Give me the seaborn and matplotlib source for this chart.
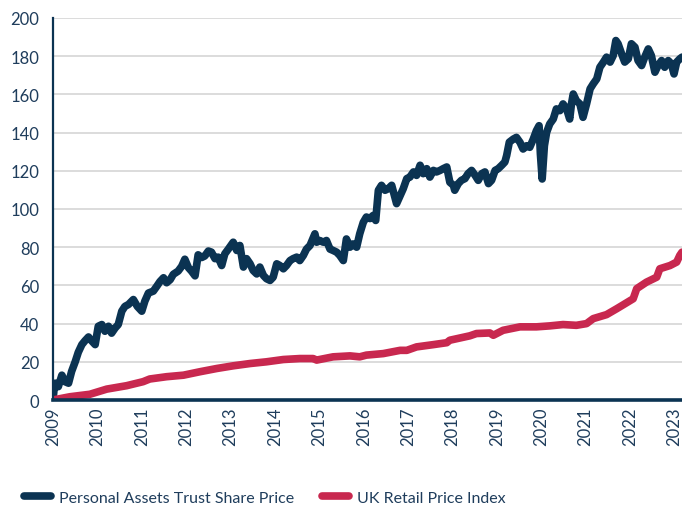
import pandas as pd
import matplotlib
matplotlib.use("Agg")
import matplotlib.pyplot as plt
import seaborn as sns

# Personal Assets Trust share price (% change since 2009)
share_years = [
    2009.00, 2009.03, 2009.05, 2009.12, 2009.20, 2009.27, 2009.35, 2009.42, 2009.50, 2009.57,
    2009.65, 2009.72, 2009.80, 2009.87, 2009.95, 2010.02, 2010.10, 2010.17, 2010.25, 2010.32,
    2010.40, 2010.47, 2010.55, 2010.62, 2010.70, 2010.81, 2010.90, 2011.00, 2011.07, 2011.15,
    2011.26, 2011.34, 2011.41, 2011.49, 2011.56, 2011.64, 2011.71, 2011.82, 2011.90, 2011.97,
    2012.05, 2012.12, 2012.20, 2012.27, 2012.35, 2012.42, 2012.50, 2012.57, 2012.65, 2012.72,
    2012.80, 2012.87, 2012.95, 2013.06, 2013.14, 2013.21, 2013.29, 2013.36, 2013.44, 2013.51,
    2013.59, 2013.66, 2013.74, 2013.81, 2013.89, 2013.96, 2014.04, 2014.11, 2014.19, 2014.26,
    2014.34, 2014.41, 2014.49, 2014.56, 2014.64, 2014.71, 2014.79, 2014.90, 2014.94, 2015.01,
    2015.09, 2015.16, 2015.24, 2015.31, 2015.39, 2015.46, 2015.54, 2015.61, 2015.69, 2015.76,
    2015.84, 2015.91, 2015.99, 2016.06, 2016.14, 2016.21, 2016.27, 2016.33, 2016.40, 2016.48,
    2016.55, 2016.63, 2016.70, 2016.74, 2016.82, 2016.89, 2016.97, 2017.04, 2017.12, 2017.19,
    2017.27, 2017.34, 2017.42, 2017.49, 2017.57, 2017.64, 2017.72, 2017.79, 2017.87, 2017.94,
    2018.02, 2018.05, 2018.13, 2018.20, 2018.28, 2018.35, 2018.43, 2018.51, 2018.58, 2018.66,
    2018.73, 2018.81, 2018.88, 2018.96, 2019.03, 2019.11, 2019.18, 2019.22, 2019.28, 2019.37,
    2019.44, 2019.52, 2019.59, 2019.67, 2019.74, 2019.82, 2019.89, 2019.95, 2019.98, 2020.02,
    2020.07, 2020.12, 2020.19, 2020.27, 2020.34, 2020.42, 2020.49, 2020.57, 2020.64, 2020.68,
    2020.72, 2020.79, 2020.87, 2020.94, 2021.02, 2021.10, 2021.17, 2021.25, 2021.32, 2021.40,
    2021.47, 2021.55, 2021.62, 2021.68, 2021.73, 2021.81, 2021.88, 2021.96, 2022.03, 2022.11,
    2022.18, 2022.26, 2022.33, 2022.41, 2022.48, 2022.56, 2022.63, 2022.71, 2022.78, 2022.86,
    2022.93, 2022.99, 2023.05, 2023.12, 2023.17,
]
share_values = [
    0, 7, 8.8, 7, 13, 9.6, 8.8, 15, 20, 25,
    29, 31, 33, 31, 29, 38.6, 39.5, 36, 38.6, 35,
    37.7, 39.5, 46.5, 49, 50, 52.6, 49, 46.5, 51.8, 56,
    57, 59.6, 62, 64, 61.4, 63, 65.8, 67.5, 70, 73.7,
    69.3, 67.5, 65, 76, 74.6, 75.4, 78, 77.4, 74, 74.8,
    70.4, 76.5, 79, 82.6, 78.3, 80.9, 69.6, 74, 71.3, 67.8,
    66, 69.6, 65.2, 63.5, 62.6, 64.3, 71.3, 70.4, 68.7, 70.4,
    73, 74, 74.8, 73, 75.7, 79, 80.9, 87, 82.6, 83.5,
    82.6, 83.5, 79, 78.3, 77.4, 75.7, 73, 84.3, 80, 81.7,
    80, 87, 93, 95.8, 95, 96.6, 94, 109.8, 112.4, 109.8,
    110.6, 112.4, 106.3, 102.8, 107, 110.6, 115.9, 116.7, 119.4, 117.6,
    122.9, 118.5, 121.1, 116.7, 120.2, 119.4, 120.2, 121.1, 122, 114,
    112.4, 109.8, 113.3, 115, 115.9, 118.5, 120.2, 117.6, 115, 118.5,
    119.4, 113.3, 115, 120.2, 121.1, 122.9, 124.6, 128, 135, 136.6,
    137.5, 134.9, 131.4, 133.1, 132.3, 136.6, 141, 143.6, 128.8, 115.7,
    133.1, 140.1, 144.5, 147.1, 152.4, 151.5, 155, 152.4, 147.1, 155,
    160.2, 156.7, 155, 148, 155, 162.9, 165.5, 168.1, 174.2, 176.9,
    179.5, 176.9, 180.3, 188.2, 186.5, 181.2, 176.9, 178.6, 186.5, 184.7,
    177.7, 175.1, 179.5, 183.8, 180.3, 171.6, 175.1, 177.7, 174.2, 177.7,
    176, 170.7, 176.9, 178.6, 179.5,
]

# UK Retail Price Index (% change since 2009)
rpi_years = [
    2009.00, 2009.38, 2009.83, 2010.21, 2010.66, 2011.03, 2011.18, 2011.56, 2011.94, 2012.31,
    2012.69, 2013.06, 2013.44, 2013.81, 2014.19, 2014.56, 2014.86, 2014.94, 2015.31, 2015.69,
    2015.91, 2016.06, 2016.44, 2016.82, 2016.97, 2017.19, 2017.57, 2017.87, 2017.94, 2018.39,
    2018.54, 2018.84, 2018.92, 2019.14, 2019.52, 2019.89, 2020.19, 2020.49, 2020.79, 2021.02,
    2021.17, 2021.47, 2021.70, 2021.85, 2022.07, 2022.15, 2022.37, 2022.60, 2022.67, 2022.90,
    2023.05, 2023.12, 2023.17,
]
rpi_values = [
    0, 1.7, 3, 5.7, 7.5, 9.6, 11, 12.2, 13, 14.8,
    16.5, 17.9, 19.1, 20, 21.2, 21.7, 21.7, 20.9, 22.6, 23.1,
    22.6, 23.5, 24.3, 26, 26, 27.8, 29, 30, 31.3, 33.6,
    34.8, 35.1, 33.9, 36.5, 38.3, 38.3, 38.8, 39.5, 39.1, 40,
    42.6, 44.7, 47.8, 49.9, 53, 58.3, 61.7, 64.3, 68.7, 70.4,
    72.2, 75.7, 77.4,
]

year_ticks = list(range(2009, 2024))
y_ticks = list(range(0, 201, 20))

navy = "#0b3352"
crimson = "#c8284f"
text_col = "#1f3d5c"

share_df = pd.DataFrame({"year": share_years, "value": share_values})
rpi_df = pd.DataFrame({"year": rpi_years, "value": rpi_values})

sns.set_style("white")
plt.rcParams["font.family"] = ["Lato", "DejaVu Sans"]

fig = plt.figure(figsize=(6.82, 5.06), dpi=100)
ax = fig.add_axes([0.0777, 0.2075, 0.9223, 0.755])

sns.lineplot(data=share_df, x="year", y="value", ax=ax, color=navy,
             linewidth=2.2, estimator=None, sort=False,
             label="Personal Assets Trust Share Price")
sns.lineplot(data=rpi_df, x="year", y="value", ax=ax, color=crimson,
             linewidth=1.7, estimator=None, sort=False,
             label="UK Retail Price Index")

ax.set_xlim(2009, 2023.17)
ax.set_ylim(0, 200)
ax.set_xticks(year_ticks)
ax.set_xticklabels([str(y) for y in year_ticks], rotation=90)
ax.set_yticks(y_ticks)
ax.tick_params(axis="both", length=0, labelsize=12, labelcolor=text_col)
ax.tick_params(axis="y", pad=10)
ax.tick_params(axis="x", pad=5)
ax.set_xlabel("")
ax.set_ylabel("")

ax.grid(axis="y", color="#d6d6d6", linewidth=1.2)
ax.grid(axis="x", visible=False)
ax.set_axisbelow(True)
for side in ["top", "right"]:
    ax.spines[side].set_visible(False)
ax.spines["left"].set_color(navy)
ax.spines["left"].set_linewidth(1.6)
ax.spines["bottom"].set_color(navy)
ax.spines["bottom"].set_linewidth(2.6)

ax.get_legend().remove()
handles, labels = ax.get_legend_handles_labels()
for h in handles:
    h.set_linewidth(5.5)
    h.set_solid_capstyle("round")
leg = fig.legend(handles, labels, loc="lower left", bbox_to_anchor=(0.014, -0.028),
                 ncol=2, frameon=False, fontsize=11.5, handlelength=1.7,
                 handletextpad=0.5, columnspacing=1.75)
for t in leg.get_texts():
    t.set_color(text_col)

fig.savefig("out.png", dpi=100)
